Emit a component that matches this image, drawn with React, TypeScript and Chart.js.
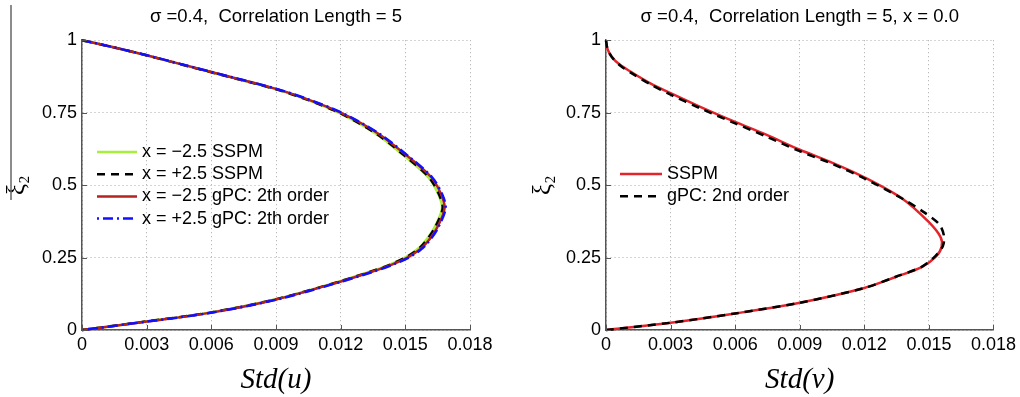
import React, { useEffect, useRef } from "react";
import { Chart, registerables } from "chart.js";

Chart.register(...registerables);

// ---------- data ----------
const xTicks = [0, 0.003, 0.006, 0.009, 0.012, 0.015, 0.018];
const xTickLabels = ["0", "0.003", "0.006", "0.009", "0.012", "0.015", "0.018"];
const yTicks = [0, 0.25, 0.5, 0.75, 1];
const yTickLabels = ["0", "0.25", "0.5", "0.75", "1"];

const leftTitle = "σ =0.4,  Correlation Length = 5";
const rightTitle = "σ =0.4,  Correlation Length = 5, x = 0.0";

// left panel: ξ2 grid shared by the four series, Std(u) per series
const leftXi = [0, 0.03, 0.06, 0.105, 0.165, 0.2, 0.225, 0.25, 0.275, 0.3, 0.35, 0.42, 0.47, 0.527, 0.6, 0.68, 0.75, 0.795, 0.832, 0.89, 0.948, 0.975, 1];
const leftGreenSSPM = [0, 0.00303, 0.00592, 0.00892, 0.01182, 0.01331, 0.01424, 0.01498, 0.0155, 0.01585, 0.01632, 0.0167, 0.01652, 0.01606, 0.01496, 0.01358, 0.0119, 0.01042, 0.00892, 0.00594, 0.00297, 0.0015, 0];
const leftBlackSSPM = [0, 0.00304, 0.00594, 0.00894, 0.01184, 0.01333, 0.01427, 0.015, 0.01553, 0.01588, 0.01635, 0.01673, 0.01655, 0.01609, 0.01499, 0.0136, 0.01192, 0.01044, 0.00894, 0.00596, 0.00298, 0.0015, 0];
const leftRedGPC = [0, 0.0031, 0.006, 0.009, 0.0119, 0.0134, 0.01435, 0.0151, 0.01562, 0.01598, 0.01645, 0.01682, 0.01665, 0.0162, 0.0151, 0.0137, 0.012, 0.0105, 0.009, 0.006, 0.003, 0.0015, 0];
const leftBlueGPC = [0, 0.0031, 0.00603, 0.00904, 0.01195, 0.01346, 0.01441, 0.01516, 0.01568, 0.01603, 0.0165, 0.01687, 0.0167, 0.01624, 0.01514, 0.01374, 0.01204, 0.01054, 0.00903, 0.00602, 0.00301, 0.0015, 0];
const leftLabels = ["x = −2.5 SSPM", "x = +2.5 SSPM", "x = −2.5 gPC: 2th order", "x = +2.5 gPC: 2th order"];

// right panel
const rightSSPMXi = [0, 0.025, 0.057, 0.094, 0.145, 0.183, 0.218, 0.252, 0.286, 0.321, 0.372, 0.453, 0.527, 0.577, 0.622, 0.674, 0.718, 0.771, 0.817, 0.852, 0.886, 0.915, 0.943, 0.972, 1];
const rightSSPMStd = [0, 0.003, 0.006, 0.009, 0.012, 0.01346, 0.01469, 0.01531, 0.01559, 0.01554, 0.015, 0.01377, 0.012, 0.01052, 0.009, 0.00744, 0.006, 0.00435, 0.003, 0.00204, 0.00126, 0.00065, 0.00026, 0.00006, 0];
const rightGPCXi = [0, 0.025, 0.057, 0.094, 0.145, 0.183, 0.218, 0.255, 0.29, 0.325, 0.365, 0.405, 0.452, 0.523, 0.573, 0.617, 0.668, 0.713, 0.766, 0.812, 0.848, 0.882, 0.912, 0.941, 0.971, 1];
const rightGPCStd = [0, 0.003, 0.006, 0.009, 0.012, 0.01343, 0.01466, 0.0153, 0.01565, 0.0157, 0.01548, 0.0148, 0.0138, 0.012, 0.01052, 0.009, 0.00744, 0.006, 0.00435, 0.003, 0.00206, 0.00128, 0.00067, 0.00028, 0.00007, 0];
const rightLabels = ["SSPM", "gPC: 2nd order"];

const pts = (xs: number[], ys: number[]) => xs.map((x, i) => ({ x, y: ys[i] }));

// ---------- plugins ----------
const inLegend = {
  id: "inLegend",
  afterDatasetsDraw(chart: any, _args: any, o: any) {
    const ctx = chart.ctx;
    ctx.save();
    chart.data.datasets.forEach((ds: any, i: number) => {
      const y = o.y + i * o.spacing;
      ctx.beginPath();
      ctx.setLineDash(ds.borderDash || []);
      ctx.strokeStyle = ds.borderColor;
      ctx.lineWidth = ds.borderWidth;
      ctx.moveTo(o.x, y);
      ctx.lineTo(o.x + o.sample, y);
      ctx.stroke();
      ctx.setLineDash([]);
      ctx.fillStyle = "#000";
      ctx.font = '18px "Liberation Sans", Arial, sans-serif';
      ctx.textBaseline = "middle";
      ctx.textAlign = "left";
      ctx.fillText(ds.label, o.x + o.sample + o.gap, y);
    });
    ctx.restore();
  },
};

const innerTicks = {
  id: "innerTicks",
  afterDraw(chart: any, _args: any, o: any) {
    const ctx = chart.ctx;
    const xs = chart.scales.x;
    const ys = chart.scales.y;
    const { left, bottom } = chart.chartArea;
    ctx.save();
    ctx.strokeStyle = "#555";
    ctx.lineWidth = 1;
    ctx.beginPath();
    xTicks.forEach((v) => {
      const px = Math.round(xs.getPixelForValue(v)) + 0.5;
      ctx.moveTo(px, bottom);
      ctx.lineTo(px, bottom - 5);
    });
    yTicks.forEach((v) => {
      const py = Math.round(ys.getPixelForValue(v)) + 0.5;
      ctx.moveTo(left, py);
      ctx.lineTo(left + 5, py);
    });
    ctx.stroke();
    if (o && o.edgeLine) {
      ctx.strokeStyle = "#666";
      ctx.lineWidth = 1.5;
      ctx.beginPath();
      ctx.moveTo(11, 5);
      ctx.lineTo(11, 200);
      ctx.stroke();
    }
    ctx.restore();
  },
};

const SANS = '"Liberation Sans", Arial, sans-serif';
const SERIF = '"Liberation Serif", "Times New Roman", serif';

function makeConfig(p: {
  title: string;
  xTitle: string;
  yWidth: number;
  yTitlePad: number;
  padRight: number;
  datasets: any[];
  legend: any;
  edgeLine: boolean;
}): any {
  return {
    type: "scatter",
    data: { datasets: p.datasets },
    plugins: [inLegend, innerTicks],
    options: {
      responsive: false,
      animation: false,
      devicePixelRatio: 1,
      layout: { padding: { left: 0, right: p.padRight, top: 0, bottom: 0 } },
      elements: { point: { radius: 0, hoverRadius: 0 } },
      plugins: {
        legend: { display: false },
        tooltip: { enabled: false },
        title: {
          display: true,
          fullSize: false,
          text: p.title,
          color: "#000",
          font: { family: SANS, size: 18.5, weight: "normal", lineHeight: 1.2 },
          padding: { top: 6, bottom: 12 },
        },
        inLegend: p.legend,
        innerTicks: { edgeLine: p.edgeLine },
      },
      scales: {
        x: {
          type: "linear",
          min: 0,
          max: 0.018,
          afterBuildTicks: (s: any) => {
            s.ticks = xTicks.map((v) => ({ value: v }));
          },
          afterFit: (s: any) => {
            s.height = 67;
          },
          ticks: {
            autoSkip: false,
            maxRotation: 0,
            padding: 4,
            color: "#000",
            font: { family: SANS, size: 18 },
            callback: (_v: any, i: number) => xTickLabels[i],
          },
          grid: { color: "#aaa", lineWidth: 1, drawTicks: false },
          border: { display: true, color: "#555", width: 1.5, dash: [1, 3] },
          title: {
            display: true,
            text: p.xTitle,
            color: "#000",
            font: { family: SERIF, size: 29, style: "italic", lineHeight: 1.1 },
            padding: { top: 0, bottom: 1 },
          },
        },
        y: {
          type: "linear",
          min: 0,
          max: 1,
          afterBuildTicks: (s: any) => {
            s.ticks = yTicks.map((v) => ({ value: v }));
          },
          afterFit: (s: any) => {
            s.width = p.yWidth;
          },
          ticks: {
            autoSkip: false,
            padding: 5,
            color: "#000",
            font: { family: SANS, size: 18 },
            callback: (_v: any, i: number) => yTickLabels[i],
          },
          grid: { color: "#aaa", lineWidth: 1, drawTicks: false },
          border: { display: true, color: "#555", width: 1.5, dash: [1, 3] },
          title: {
            display: true,
            text: "ξ₂",
            color: "#000",
            font: { family: SERIF, size: 25, lineHeight: 1.2 },
            padding: { top: p.yTitlePad, bottom: 0 },
          },
        },
      },
    },
  };
}

const lineDs = (label: string, data: any[], color: string, dash: number[], order: number) => ({
  label,
  data,
  showLine: true,
  borderColor: color,
  backgroundColor: color,
  borderWidth: 2.5,
  borderDash: dash,
  pointRadius: 0,
  tension: 0.3,
  clip: 6,
  order,
});

export default function App() {
  const leftRef = useRef<HTMLCanvasElement>(null);
  const rightRef = useRef<HTMLCanvasElement>(null);

  useEffect(() => {
    const left = new Chart(
      leftRef.current as HTMLCanvasElement,
      makeConfig({
        title: leftTitle,
        xTitle: "Std(u)",
        yWidth: 82,
        yTitlePad: 2,
        padRight: 40,
        edgeLine: true,
        legend: { x: 97, y: 152, spacing: 22.2, sample: 40, gap: 5 },
        datasets: [
          lineDs(leftLabels[0], pts(leftGreenSSPM, leftXi), "#a6f03c", [], 4),
          lineDs(leftLabels[1], pts(leftBlackSSPM, leftXi), "#000000", [8, 6], 3),
          lineDs(leftLabels[2], pts(leftRedGPC, leftXi), "#b5231f", [], 2),
          lineDs(leftLabels[3], pts(leftBlueGPC, leftXi), "#1010ff", [2, 4, 10, 4], 1),
        ],
      })
    );
    const right = new Chart(
      rightRef.current as HTMLCanvasElement,
      makeConfig({
        title: rightTitle,
        xTitle: "Std(v)",
        yWidth: 96,
        yTitlePad: 18,
        padRight: 25,
        edgeLine: false,
        legend: { x: 110, y: 174, spacing: 22.2, sample: 42, gap: 5 },
        datasets: [
          lineDs(rightLabels[0], pts(rightSSPMStd, rightSSPMXi), "#e3242b", [], 2),
          lineDs(rightLabels[1], pts(rightGPCStd, rightGPCXi), "#000000", [8, 6], 1),
        ],
      })
    );
    return () => {
      left.destroy();
      right.destroy();
    };
  }, []);

  return (
    <div style={{ position: "fixed", left: 0, top: 0, width: 1020, height: 397, background: "#fff" }}>
      <canvas ref={leftRef} width={510} height={397} style={{ position: "absolute", left: 0, top: 0 }} />
      <canvas ref={rightRef} width={510} height={397} style={{ position: "absolute", left: 510, top: 0 }} />
    </div>
  );
}
